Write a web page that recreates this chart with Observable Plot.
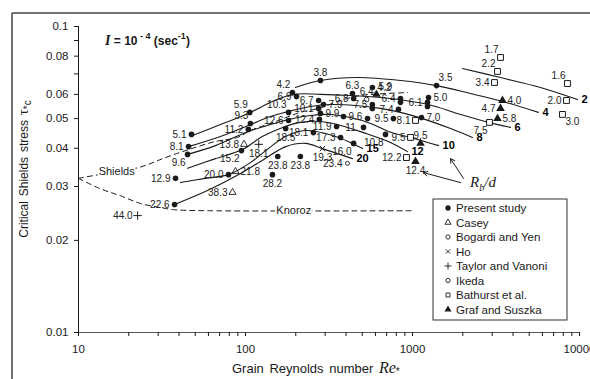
<!DOCTYPE html>
<html><head><meta charset="utf-8">
<script src="https://cdn.jsdelivr.net/npm/d3@7"></script>
<script src="https://cdn.jsdelivr.net/npm/@observablehq/plot@0.6"></script>
<style>
body{margin:0;background:#fff;}
#chart{width:590px;height:379px;}
</style></head><body><div id="chart"></div>
<script>
// ---------- data ----------
const presentStudy = [
 {re:47.5,tau:0.0444,label:"5.1"},{re:45.6,tau:0.0405,label:"8.1"},{re:45.0,tau:0.0382,label:"9.6"},
 {re:38.1,tau:0.0319,label:"12.9"},{re:37.6,tau:0.0262,label:"22.6"},{re:79.1,tau:0.0328,label:"20.0"},
 {re:145,tau:0.0328,label:"28.2"},{re:156,tau:0.0376,label:"23.8"},{re:213,tau:0.0376,label:"23.8"},
 {re:94.6,tau:0.0393,label:"15.2"},{re:104,tau:0.0461,label:"11.2"},{re:107,tau:0.0482,label:"9.3"},
 {re:106,tau:0.0524,label:"5.9"},{re:191,tau:0.0608,label:"4.2"},{re:202,tau:0.0590,label:"6.9"},
 {re:181,tau:0.0524,label:"10.3"},{re:181,tau:0.0493,label:"12.6"},{re:174,tau:0.0464,label:"18.5"},
 {re:255,tau:0.0450,label:"18.1"},{re:281,tau:0.0666,label:"3.8"},{re:437,tau:0.0604,label:"6.3"},
 {re:575,tau:0.0632,label:"4.2"},{re:274,tau:0.0573,label:"6.7"},{re:444,tau:0.0582,label:"6.8"},
 {re:847,tau:0.0582,label:"6.4"},{re:575,tau:0.0556,label:"7.5"},{re:293,tau:0.0556,label:"7.9"},
 {re:274,tau:0.0540,label:"10.1"},{re:824,tau:0.0536,label:"7.4"},{re:1230,tau:0.0565,label:"6.1"},
 {re:1247,tau:0.0586,label:"5.0"},{re:1393,tau:0.0641,label:"3.5"},{re:277,tau:0.0497,label:"12.4"},
 {re:281,tau:0.0520,label:"9.9"},{re:386,tau:0.0508,label:"9.6"},{re:769,tau:0.0500,label:"9.5"},
 {re:1132,tau:0.0504,label:"7.0"},{re:351,tau:0.0471,label:"11.9"},{re:509,tau:0.0468,label:"11."},
 {re:689,tau:0.0444,label:"10.8"},{re:371,tau:0.0434,label:"17.3"},{re:444,tau:0.0415,label:"16.0"},
 {re:538,tau:0.0500,label:""},{re:575,tau:0.0540,label:""},{re:847,tau:0.0565,label:""},{re:1230,tau:0.0548,label:""}
];
const casey = [{re:83.6,tau:0.0287,label:"38.3"},{re:87.1,tau:0.0336,label:"21.8"},{re:98,tau:0.0412,label:"13.8"}];
const bogardiYen = [{re:531,tau:0.0577,label:"6.4"}];
const ho = [{re:289,tau:0.0399,label:"19.3"}];
const taylorVanoni = [{re:22.6,tau:0.0241,label:"44.0"},{re:120,tau:0.0412,label:"18.1"}];
const ikeda = [{re:408,tau:0.0357,label:"23.4"}];
const bathurst = [
 {re:1042,tau:0.0493,label:"8.1"},{re:973,tau:0.0434,label:"9.5"},{re:920,tau:0.0373,label:"12.2"},
 {re:2891,tau:0.0486,label:"7.5"},{re:3097,tau:0.0656,label:"3.4"},{re:3228,tau:0.0713,label:"2.2"},
 {re:3365,tau:0.0792,label:"1.7"},{re:8472,tau:0.0651,label:"1.6"},{re:8356,tau:0.0573,label:"2.0"},
 {re:7907,tau:0.0516,label:"3.0"}
];
const grafSuszka = [
 {re:1117,tau:0.0415,label:"9.5"},{re:1042,tau:0.0362,label:"12.4"},{re:3459,tau:0.0573,label:"4.0"},
 {re:3365,tau:0.0540,label:"4.7"},{re:3228,tau:0.0500,label:"5.8"},{re:608,tau:0.0600,label:"5.9"}
];
// Rb/d curves
const curveRb = {
 "2":[[1992,0.0729],[3365,0.0681],[5834,0.0632],[9727,0.0577]],
 "4":[[199,0.0632],[281,0.0666],[469,0.0681],[847,0.0666],[1393,0.0641],[2225,0.0604],[3459,0.0569],[5675,0.0524]],
 "6":[[48.2,0.0440],[70.8,0.0478],[107,0.0524],[145,0.0569],[194,0.0600],[281,0.0600],[425,0.0595],[643,0.0586],[908,0.0573],[1247,0.0556],[1938,0.0516],[2851,0.0486],[3864,0.0468]],
 "8":[[45.6,0.0405],[70.8,0.0437],[107,0.0478],[141,0.0508],[181,0.0528],[245,0.0548],[323,0.0556],[456,0.0552],[643,0.0540],[847,0.0524],[1148,0.0500],[1690,0.0464],[2286,0.0434]],
 "10":[[45.0,0.0382],[66.1,0.0408],[104,0.0454],[141,0.0478],[181,0.0497],[245,0.0512],[323,0.0516],[425,0.0504],[561,0.0482],[718,0.0454],[973,0.0434],[1432,0.0408]],
 "12":[[45.0,0.0344],[66.1,0.0370],[95.9,0.0396],[126,0.0437],[167,0.0468],[213,0.0486],[281,0.0489],[371,0.0475],[509,0.0450],[738,0.0418],[933,0.0390]],
 "15":[[40.8,0.0309],[57.6,0.0319],[79.1,0.0328],[107,0.0359],[137,0.0399],[174,0.0437],[229,0.0457],[301,0.0447],[371,0.0431],[502,0.0399]],
 "20":[[37.6,0.0262],[59.2,0.0291],[87.1,0.0324],[126,0.0365],[174,0.0405],[229,0.0415],[289,0.0399],[437,0.0370]]
};
const shields = [[10,0.0319],[13.2,0.0328],[22.9,0.0346],[33.2,0.0373],[45.6,0.0396],[66.1,0.0421],[89.5,0.0434],[107,0.0457],[151,0.0489],[213,0.0524],[274,0.0540],[371,0.0573],[489,0.0595],[933,0.0608]];
const knoroz = [[10,0.0319],[13.5,0.0295],[17.8,0.0280],[23.5,0.0264],[31.0,0.0256],[37.1,0.0252],[60,0.0250],[1000,0.0250]];
const xTicks = [10,20,30,40,50,60,70,80,90,100,200,300,400,500,600,700,800,900,1000,2000,3000,4000,5000,6000,7000,8000,9000,10000];
const xTickLabels = new Map([[10,"10"],[100,"100"],[1000,"1000"],[10000,"10000"]]);
const yTicks = [0.01,0.02,0.03,0.04,0.05,0.06,0.07,0.08,0.09,0.1];
const yTickLabels = ["0.01","0.02","0.03","0.04","0.05","0.06","","0.08","","0.1"];
const legendNames = ["Present study","Casey","Bogardi and Yen","Ho","Taylor and Vanoni","Ikeda","Bathurst et al.","Graf and Suszka"];

// ---------- label placement (layout only) ----------
const sides = {
 present:["L","L","BL","L","L","L","B","B","B","BL","L","AL","AL","AL","L","AL","L","B","L","A","A","R","L","L","L","L","R","L","L","L","R","AR","L","R","R","L","R","L","L","BL","L","BL","L","L","L","L"],
 casey:["L","R","L"], bogardi:["A"], ho:["B"], taylor:["L","B"], ikeda:["L"],
 bathurst:["L","L","L","BL","L","AL","AL","AL","L","BR"],
 graf:["A","B","R","L","R","AR"]
};
const sets = [[presentStudy,"present"],[casey,"casey"],[bogardiYen,"bogardi"],[ho,"ho"],[taylorVanoni,"taylor"],[ikeda,"ikeda"],[bathurst,"bathurst"],[grafSuszka,"graf"]];
const labeled = sets.flatMap(([arr,k]) => arr.map((d,i)=>({...d, side:sides[k][i]}))).filter(d=>d.label);
const place = {
 L:{dx:-5,dy:0,textAnchor:"end"}, R:{dx:5,dy:0,textAnchor:"start"},
 A:{dx:0,dy:-8,textAnchor:"middle"}, B:{dx:0,dy:9,textAnchor:"middle"},
 AL:{dx:-2,dy:-8,textAnchor:"end"}, BL:{dx:-2,dy:8,textAnchor:"end"},
 AR:{dx:2,dy:-8,textAnchor:"start"}, BR:{dx:3,dy:7,textAnchor:"start"}
};
const curvePts = Object.entries(curveRb).flatMap(([rb,pts]) => pts.map(([re,tau])=>({rb,re,tau})));
const toObj = a => a.map(([re,tau])=>({re,tau}));

const ink = "#1a1a1a";
const labelMarks = Object.entries(place).map(([k,p]) =>
  Plot.text(labeled.filter(d=>d.side===k), {x:"re", y:"tau", text:"label", dx:p.dx, dy:p.dy, textAnchor:p.textAnchor, fontSize:10, fill:"#222"}));

const plot = Plot.plot({
 width:590, height:379,
 marginLeft:78, marginRight:11, marginTop:26, marginBottom:47,
 style:{fontFamily:"'Liberation Sans', Arial, sans-serif", fontSize:"11px", background:"white", color:ink, overflow:"visible"},
 x:{type:"log", domain:[10,10000]},
 y:{type:"log", domain:[0.01,0.1]},
 marks:[
  Plot.ruleX([10], {y1:0.01, y2:0.1, stroke:ink}),
  Plot.ruleY([0.01], {x1:10, x2:10000, stroke:"#555", strokeWidth:1.2}),
  Plot.axisX({ticks:xTicks, tickFormat:d=>xTickLabels.get(d) ?? "", tickSize:4, tickPadding:8, fontSize:11.5, label:null, stroke:ink}),
  Plot.axisY({ticks:yTicks, tickFormat:d=>yTickLabels[yTicks.indexOf(d)], tickSize:4, tickPadding:6, fontSize:11.5, label:null, stroke:ink}),
  Plot.line(toObj(shields), {x:"re", y:"tau", curve:"catmull-rom", stroke:ink, strokeWidth:1, strokeDasharray:"5,4"}),
  Plot.line(toObj(knoroz), {x:"re", y:"tau", curve:"catmull-rom", stroke:ink, strokeWidth:1, strokeDasharray:"5,4"}),
  Plot.text([{re:13.2, tau:0.0336}], {x:"re", y:"tau", text:()=>"Shields", textAnchor:"start", fontSize:11, stroke:"white", strokeWidth:4, fill:ink}),
  Plot.text([{re:153, tau:0.0250}], {x:"re", y:"tau", text:()=>"Knoroz", textAnchor:"start", fontSize:11, stroke:"white", strokeWidth:4, fill:ink}),
  Plot.line(curvePts, {x:"re", y:"tau", z:"rb", curve:"catmull-rom", stroke:ink, strokeWidth:1.1}),
  Plot.text(curvePts, Plot.selectLast({x:"re", y:"tau", z:"rb", text:"rb", dx:4, textAnchor:"start", fontWeight:"bold", fontSize:11, fill:"black"})),
  Plot.dot(presentStudy, {x:"re", y:"tau", symbol:"circle", r:2.8, fill:ink}),
  Plot.dot(casey, {x:"re", y:"tau", symbol:"triangle", r:2.6, fill:"none", stroke:ink, strokeWidth:0.9}),
  Plot.dot(bogardiYen, {x:"re", y:"tau", symbol:"circle", r:2.4, fill:"none", stroke:ink, strokeWidth:0.9}),
  Plot.dot(ho, {x:"re", y:"tau", symbol:"times", r:2.6, stroke:ink, strokeWidth:1}),
  Plot.dot(taylorVanoni, {x:"re", y:"tau", symbol:"plus", r:2.8, stroke:ink, strokeWidth:1}),
  Plot.dot(ikeda, {x:"re", y:"tau", symbol:"circle", r:2, fill:"none", stroke:ink, strokeWidth:0.9}),
  Plot.dot(bathurst, {x:"re", y:"tau", symbol:"square", r:3.3, fill:"white", stroke:ink, strokeWidth:1}),
  Plot.dot(grafSuszka, {x:"re", y:"tau", symbol:"triangle", r:3.2, fill:ink}),
  ...labelMarks,
  Plot.arrow([{x1:2019,y1:0.0319,x2:1690,y2:0.0370},{x1:1938,y1:0.0309,x2:1164,y2:0.0333}], {x1:"x1",y1:"y1",x2:"x2",y2:"y2", stroke:ink, strokeWidth:1, headLength:7, bend:0})
 ]
});
document.getElementById("chart").appendChild(plot);

// ---------- annotations, titles, legend ----------
const svg = d3.select(plot);
const sx = plot.scale("x"), sy = plot.scale("y");
const sans = "'Liberation Sans', Arial, sans-serif", serif = "'Liberation Serif', 'Times New Roman', serif";
// frame
svg.append("line").attr("x1",12).attr("y1",13).attr("x2",590).attr("y2",13).attr("stroke","#444").attr("stroke-width",1.5);
svg.append("line").attr("x1",12).attr("y1",13).attr("x2",12).attr("y2",379).attr("stroke","#444").attr("stroke-width",1.5);
// slope annotation
const t = svg.append("text").attr("x",105).attr("y",45).attr("text-anchor","start").attr("font-weight","bold").attr("font-size",12).attr("fill",ink).attr("font-family",sans);
t.append("tspan").attr("font-family",serif).attr("font-style","italic").attr("font-size",14).text("I");
t.append("tspan").text(" = 10");
t.append("tspan").attr("dy",-6).attr("font-size",9).text(" - 4");
t.append("tspan").attr("dy",6).text(" (sec");
t.append("tspan").attr("dy",-6).attr("font-size",9).text("-1");
t.append("tspan").attr("dy",6).text(")");
// Rb/d
const rb = svg.append("text").attr("x",sx.apply(2661)).attr("y",sy.apply(0.0307)+4).attr("text-anchor","middle").attr("font-family",serif).attr("font-style","italic").attr("font-size",15).attr("fill",ink);
rb.append("tspan").text("R");
rb.append("tspan").attr("dy",4).attr("font-size",10).text("b");
rb.append("tspan").attr("dy",-4).text("/d");
// x title
const xt = svg.append("text").attr("x",232).attr("y",373).attr("text-anchor","start").attr("font-size",13).attr("fill",ink).attr("word-spacing",2).attr("font-family",sans);
xt.append("tspan").text("Grain Reynolds number ");
xt.append("tspan").attr("font-family",serif).attr("font-style","italic").attr("font-size",16).text("Re");
xt.append("tspan").attr("dy",2).attr("font-size",10).text("*");
// y title
const yt = svg.append("text").attr("transform","translate(28,169) rotate(-90)").attr("text-anchor","middle").attr("font-size",12).attr("fill",ink).attr("word-spacing",1.5).attr("font-family",sans);
yt.append("tspan").text("Critical Shields stress ");
yt.append("tspan").attr("font-family",serif).attr("font-size",15).text("τ");
yt.append("tspan").attr("dy",3).attr("font-size",10).text("*c");
// legend
const lg = svg.append("g").attr("font-family",sans).attr("font-size",11.5).attr("fill",ink);
lg.append("rect").attr("x",433).attr("y",199).attr("width",134).attr("height",121).attr("fill","white").attr("stroke","#333").attr("stroke-width",1);
const symDefs = [
 {t:d3.symbolCircle,s:22,fill:ink,stroke:"none"},
 {t:d3.symbolTriangle,s:16,fill:"none",stroke:ink},
 {t:d3.symbolCircle,s:14,fill:"none",stroke:ink},
 {t:d3.symbolX,s:14,fill:"none",stroke:ink},
 {t:d3.symbolPlus,s:18,fill:"none",stroke:ink},
 {t:d3.symbolCircle,s:14,fill:"none",stroke:ink},
 {t:d3.symbolSquare2,s:20,fill:"none",stroke:ink},
 {t:d3.symbolTriangle,s:22,fill:ink,stroke:"none"}
];
legendNames.forEach((name,i)=>{
  const y = 208 + i*14.5;
  lg.append("path").attr("d",d3.symbol(symDefs[i].t,symDefs[i].s)()).attr("transform",`translate(448,${y})`).attr("fill",symDefs[i].fill).attr("stroke",symDefs[i].stroke).attr("stroke-width",0.9);
  lg.append("text").attr("x",456).attr("y",y+4).attr("text-anchor","start").text(name);
});
</script></body></html>
